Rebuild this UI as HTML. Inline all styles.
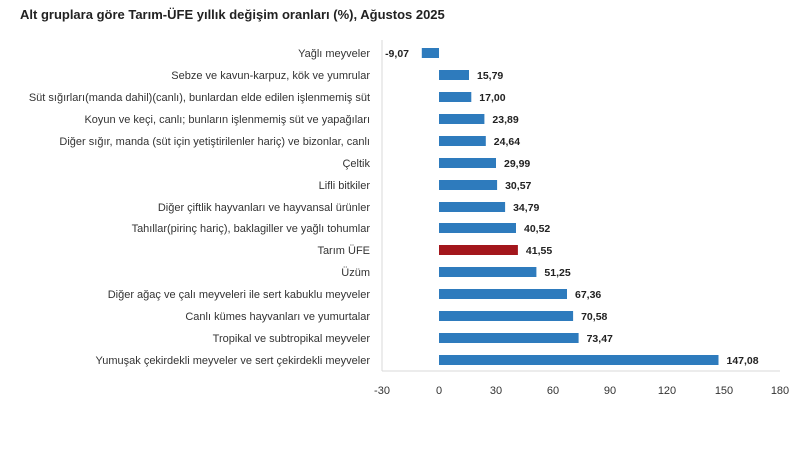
<!DOCTYPE html>
<html><head><meta charset="utf-8"><style>
body{margin:0;background:#fff;}
svg text{font-family:"Liberation Sans",sans-serif;}
.c{font-size:11px;fill:#333;text-anchor:end;}
.v{font-size:10.5px;font-weight:bold;fill:#222;}
</style></head><body>
<svg width="800" height="450" xmlns="http://www.w3.org/2000/svg">
<rect width="800" height="450" fill="#fff"/>
<text x="20" y="19" font-size="13" font-weight="bold" fill="#222">Alt gruplara göre Tarım-ÜFE yıllık değişim oranları (%), Ağustos 2025</text>
<line x1="382" y1="40" x2="382" y2="371" stroke="#d9d9d9"/>
<line x1="382" y1="371" x2="780" y2="371" stroke="#d9d9d9"/>
<g font-size="11" fill="#333" text-anchor="middle">
<text x="382" y="394">-30</text><text x="439" y="394">0</text><text x="496" y="394">30</text><text x="553" y="394">60</text><text x="610" y="394">90</text><text x="667" y="394">120</text><text x="724" y="394">150</text><text x="780" y="394">180</text>
</g>
<g fill="#2e7bbd">
<rect x="421.8" y="48" width="17.2" height="10"/>
<rect x="439" y="70" width="30" height="10"/>
<rect x="439" y="92" width="32.3" height="10"/>
<rect x="439" y="114" width="45.4" height="10"/>
<rect x="439" y="136" width="46.8" height="10"/>
<rect x="439" y="158" width="57" height="10"/>
<rect x="439" y="180" width="58.1" height="10"/>
<rect x="439" y="202" width="66.1" height="10"/>
<rect x="439" y="223" width="77" height="10"/>
<rect x="439" y="245" width="78.9" height="10" fill="#a3161c"/>
<rect x="439" y="267" width="97.4" height="10"/>
<rect x="439" y="289" width="128" height="10"/>
<rect x="439" y="311" width="134.1" height="10"/>
<rect x="439" y="333" width="139.6" height="10"/>
<rect x="439" y="355" width="279.5" height="10"/>
</g>
<text class="c" x="370" y="57">Yağlı meyveler</text>
<text class="c" x="370" y="79">Sebze ve kavun-karpuz, kök ve yumrular</text>
<text class="c" x="370" y="101">Süt sığırları(manda dahil)(canlı), bunlardan elde edilen işlenmemiş süt</text>
<text class="c" x="370" y="123">Koyun ve keçi, canlı; bunların işlenmemiş süt ve yapağıları</text>
<text class="c" x="370" y="145">Diğer sığır, manda (süt için yetiştirilenler hariç) ve bizonlar, canlı</text>
<text class="c" x="370" y="167">Çeltik</text>
<text class="c" x="370" y="189">Lifli bitkiler</text>
<text class="c" x="370" y="211">Diğer çiftlik hayvanları ve hayvansal ürünler</text>
<text class="c" x="370" y="232">Tahıllar(pirinç hariç), baklagiller ve yağlı tohumlar</text>
<text class="c" x="370" y="254">Tarım ÜFE</text>
<text class="c" x="370" y="276">Üzüm</text>
<text class="c" x="370" y="298">Diğer ağaç ve çalı meyveleri ile sert kabuklu meyveler</text>
<text class="c" x="370" y="320">Canlı kümes hayvanları ve yumurtalar</text>
<text class="c" x="370" y="342">Tropikal ve subtropikal meyveler</text>
<text class="c" x="370" y="364">Yumuşak çekirdekli meyveler ve sert çekirdekli meyveler</text>
<text class="v" x="409" y="57" text-anchor="end">-9,07</text>
<text class="v" x="477" y="79">15,79</text>
<text class="v" x="479.3" y="101">17,00</text>
<text class="v" x="492.4" y="123">23,89</text>
<text class="v" x="493.8" y="145">24,64</text>
<text class="v" x="504" y="167">29,99</text>
<text class="v" x="505.1" y="189">30,57</text>
<text class="v" x="513.1" y="211">34,79</text>
<text class="v" x="524" y="232">40,52</text>
<text class="v" x="525.9" y="254">41,55</text>
<text class="v" x="544.4" y="276">51,25</text>
<text class="v" x="575" y="298">67,36</text>
<text class="v" x="581.1" y="320">70,58</text>
<text class="v" x="586.6" y="342">73,47</text>
<text class="v" x="726.5" y="364">147,08</text>
</svg>
</body></html>
